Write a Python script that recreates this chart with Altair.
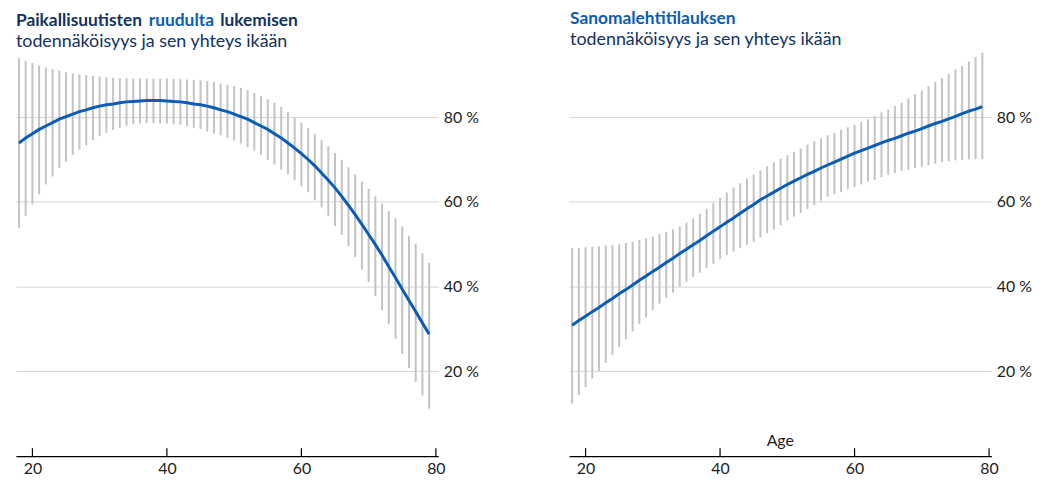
import altair as alt
import pandas as pd

ages = list(range(18, 80))

left_mid = [73.9, 75.1, 76.1, 77.1, 77.9, 78.7, 79.5, 80.1, 80.7, 81.3,
            81.7, 82.2, 82.6, 82.9, 83.1, 83.4, 83.6, 83.7, 83.8, 83.9,
            83.9, 83.9, 83.8, 83.7, 83.6, 83.4, 83.1, 82.9, 82.6, 82.2,
            81.7, 81.3, 80.7, 80.1, 79.5, 78.7, 77.9, 77.1, 76.1, 75.1,
            73.9, 72.7, 71.4, 70.0, 68.5, 66.8, 65.1, 63.3, 61.3, 59.2,
            57.0, 54.7, 52.3, 49.9, 47.4, 44.7, 42.1, 39.4, 36.7, 34.1,
            31.4, 28.8]
left_hi = [93.9, 93.2, 92.8, 92.2, 91.7, 91.3, 91.0, 90.6, 90.3, 90.1,
           89.9, 89.7, 89.6, 89.4, 89.3, 89.2, 89.2, 89.1, 89.1, 89.1,
           89.1, 89.1, 89.1, 89.0, 89.0, 88.9, 88.8, 88.7, 88.5, 88.3,
           87.9, 87.6, 87.3, 86.9, 86.4, 85.7, 84.9, 84.2, 83.4, 82.4,
           81.2, 80.0, 78.7, 77.4, 76.0, 74.6, 73.1, 71.5, 69.9, 68.2,
           66.5, 64.8, 63.1, 61.3, 59.6, 57.8, 56.1, 54.2, 52.0, 50.1,
           47.9, 45.6]
left_lo = [53.9, 56.7, 59.4, 61.8, 64.1, 66.0, 68.0, 69.5, 71.1, 72.3,
           73.4, 74.6, 75.5, 76.3, 77.0, 77.5, 78.0, 78.3, 78.5, 78.6,
           78.6, 78.5, 78.5, 78.3, 78.2, 77.9, 77.5, 77.2, 76.6, 76.1,
           75.7, 75.1, 74.5, 73.8, 72.9, 72.1, 71.1, 69.9, 68.8, 67.6,
           66.5, 65.1, 63.7, 62.3, 60.4, 58.7, 56.7, 54.3, 52.2, 49.5,
           47.0, 44.0, 41.1, 37.8, 34.4, 31.1, 27.7, 24.1, 20.8, 17.5,
           14.3, 11.2]

right_mid = [30.9, 32.0, 33.0, 34.1, 35.1, 36.2, 37.2, 38.3, 39.3, 40.4,
             41.5, 42.5, 43.6, 44.6, 45.7, 46.7, 47.8, 48.8, 49.9, 50.9,
             52.0, 53.1, 54.1, 55.2, 56.2, 57.3, 58.4, 59.4, 60.5, 61.4,
             62.3, 63.2, 64.1, 64.9, 65.7, 66.5, 67.2, 68.0, 68.7, 69.4,
             70.1, 70.8, 71.5, 72.1, 72.7, 73.3, 73.9, 74.5, 75.0, 75.6,
             76.2, 76.7, 77.3, 77.9, 78.5, 79.0, 79.6, 80.2, 80.8, 81.4,
             81.9, 82.5]
right_hi = [49.1, 49.1, 49.3, 49.4, 49.5, 49.7, 49.8, 50.0, 50.3, 50.6,
            51.0, 51.4, 51.8, 52.4, 52.9, 53.5, 54.2, 55.1, 56.1, 57.2,
            58.4, 59.7, 61.0, 62.2, 63.4, 64.4, 65.5, 66.4, 67.4, 68.4,
            69.3, 70.2, 71.0, 71.8, 72.6, 73.5, 74.3, 75.0, 75.7, 76.3,
            77.0, 77.6, 78.2, 78.9, 79.5, 80.3, 81.1, 81.8, 82.6, 83.4,
            84.4, 85.4, 86.3, 87.3, 88.3, 89.2, 90.2, 91.2, 92.1, 93.1,
            94.2, 95.2]
right_lo = [12.4, 14.4, 16.3, 18.3, 20.1, 22.0, 23.9, 25.7, 27.6, 29.4,
            31.2, 32.7, 34.4, 36.0, 37.4, 38.6, 40.0, 41.1, 42.3, 43.3,
            44.4, 45.4, 46.5, 47.5, 48.3, 49.1, 49.9, 50.6, 51.6, 52.6,
            53.5, 54.5, 55.6, 56.5, 57.4, 58.3, 59.2, 60.3, 61.2, 61.8,
            62.3, 63.0, 63.5, 64.1, 64.8, 65.2, 65.8, 66.4, 66.8, 67.3,
            67.6, 68.0, 68.3, 68.7, 69.0, 69.4, 69.6, 69.8, 69.9, 70.0,
            70.1, 70.1]

tick_values = [20, 40, 60, 80]
grid_values = [20, 40, 60, 80]

W = 426
H = 409
Y_MAX = 95.67
FONT = "Lato"
NAVY = "#12325f"
BLUE = "#0b5cb5"
LINE = "#0a5cb8"


def text_layer(s, x, y, color, bold=False, size=17.5, align="left"):
    return alt.Chart(pd.DataFrame({"t": [s]})).mark_text(
        align=align, baseline="alphabetic", fontSize=size,
        fontWeight="bold" if bold else "normal", color=color, font=FONT
    ).encode(text="t:N", x=alt.value(x), y=alt.value(y))


def panel(mid, lo, hi, titles, extra=None):
    df = pd.DataFrame({"age": ages, "mid": mid, "lo": lo, "hi": hi})
    xenc = alt.X("age:Q",
                 scale=alt.Scale(domain=[17.55, 80.35], nice=False, zero=False),
                 axis=alt.Axis(values=tick_values, ticks=False, domainColor="#000",
                               domainWidth=1.2, grid=False, labelPadding=4,
                               labelFontSize=16, labelColor="#222", labelFont=FONT,
                               title=None, labelFlush=False))
    yenc = alt.Y("lo:Q",
                 scale=alt.Scale(domain=[0, Y_MAX], nice=False),
                 axis=alt.Axis(orient="right", values=grid_values,
                               labelExpr="datum.value + ' %'", domain=False,
                               ticks=False, gridColor="#d4d4d4", gridWidth=1,
                               labelPadding=5, labelFontSize=16, labelColor="#222",
                               labelFont=FONT, title=None))
    bars = alt.Chart(df).mark_rule(color="#c3c3c3", strokeWidth=2).encode(
        x=xenc, y=yenc, y2="hi:Q")
    line = alt.Chart(df).mark_line(color=LINE, strokeWidth=3).encode(
        x="age:Q", y="mid:Q")
    ticks = alt.Chart(pd.DataFrame({"v": tick_values})).mark_rule(
        color="#000", strokeWidth=1.2).encode(
        x="v:Q", y=alt.value(H - 8), y2=alt.value(H))
    layers = [bars, line, ticks] + [text_layer(*t) for t in titles]
    if extra is not None:
        layers.append(extra)
    return alt.layer(*layers).properties(width=W, height=H)


left = panel(left_mid, left_lo, left_hi, [
    ("Paikallisuutisten", 0, -25, NAVY, True),
    ("ruudulta", 134, -25, BLUE, True),
    ("lukemisen", 206, -25, NAVY, True),
    ("todennäköisyys ja sen yhteys ikään", 0, -3.5, NAVY, False, 18),
])
right = panel(right_mid, right_lo, right_hi, [
    ("Sanomalehtitilauksen", 1, -27, BLUE, True),
    ("todennäköisyys ja sen yhteys ikään", 1, -5.5, NAVY, False, 18),
], extra=text_layer("Age", W / 2, H - 10, "#222", False, 16, "center"))

chart = alt.hconcat(left, right, spacing=132, bounds="flush").configure(
    padding={"left": 5, "top": 0, "right": 5, "bottom": 5}
).configure_view(stroke=None)

chart.save("out.html", embed_options={"renderer": "svg", "actions": False})
